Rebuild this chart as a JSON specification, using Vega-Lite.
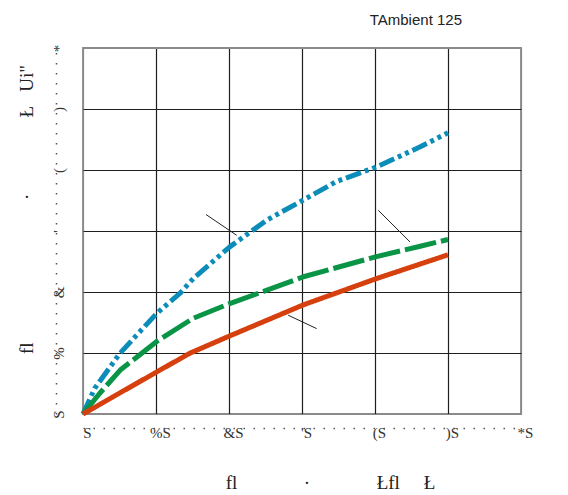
{
  "$schema": "https://vega.github.io/schema/vega-lite/v6.json",
  "width": 438,
  "height": 366,
  "autosize": {"type": "none"},
  "padding": {"left": 83, "top": 48, "right": 47, "bottom": 81},
  "background": "white",
  "title": {
    "text": "TAmbient 125",
    "anchor": "end",
    "frame": "group",
    "dx": -59,
    "offset": 4,
    "font": "Liberation Sans",
    "fontSize": 15,
    "fontWeight": "normal",
    "color": "#222222",
    "baseline": "alphabetic"
  },
  "config": {
    "view": {"stroke": "#8a8a8a", "strokeWidth": 1.8}
  },
  "datasets": {
    "curves": [
      {"series": "A", "x": 0, "y": 0},
      {"series": "A", "x": 1.6, "y": 0.42},
      {"series": "A", "x": 5.1, "y": 1.0},
      {"series": "A", "x": 10.1, "y": 1.65},
      {"series": "A", "x": 13.3, "y": 1.98},
      {"series": "A", "x": 15.1, "y": 2.22},
      {"series": "A", "x": 20.1, "y": 2.74},
      {"series": "A", "x": 25.2, "y": 3.18},
      {"series": "A", "x": 30.2, "y": 3.51},
      {"series": "A", "x": 34.7, "y": 3.81},
      {"series": "A", "x": 40.2, "y": 4.05},
      {"series": "A", "x": 46.2, "y": 4.38},
      {"series": "A", "x": 50, "y": 4.61},
      {"series": "B", "x": 0, "y": 0},
      {"series": "B", "x": 2.3, "y": 0.34},
      {"series": "B", "x": 5.1, "y": 0.72},
      {"series": "B", "x": 10.1, "y": 1.19},
      {"series": "B", "x": 15.1, "y": 1.57},
      {"series": "B", "x": 20.1, "y": 1.81},
      {"series": "B", "x": 25.2, "y": 2.03},
      {"series": "B", "x": 30.2, "y": 2.25},
      {"series": "B", "x": 40.2, "y": 2.58},
      {"series": "B", "x": 46.2, "y": 2.75},
      {"series": "B", "x": 50, "y": 2.86},
      {"series": "C", "x": 0, "y": 0},
      {"series": "C", "x": 10.1, "y": 0.69},
      {"series": "C", "x": 14.7, "y": 1.0},
      {"series": "C", "x": 20.1, "y": 1.28},
      {"series": "C", "x": 30.2, "y": 1.79},
      {"series": "C", "x": 40.2, "y": 2.22},
      {"series": "C", "x": 50, "y": 2.61}
    ],
    "leaders": [
      {"x": 16.85, "y": 3.27, "x2": 21.05, "y2": 2.93},
      {"x": 40.45, "y": 3.34, "x2": 44.8, "y2": 2.82},
      {"x": 28.1, "y": 1.62, "x2": 32.0, "y2": 1.40}
    ]
  },
  "layer": [
    {
      "data": {"name": "curves"},
      "mark": {"type": "line", "strokeWidth": 5, "strokeCap": "butt", "strokeJoin": "round"},
      "encoding": {
        "x": {
          "field": "x",
          "type": "quantitative",
          "scale": {"domain": [0, 60], "nice": false, "zero": false},
          "axis": {
            "orient": "bottom",
            "offset": 14,
            "values": [0, 10, 20, 30, 40, 50, 60],
            "labelExpr": "[\"S\",\"%S\",\"&S\",\"'S\",\"(S\",\")S\",\"*S\"][round(datum.value/10)]",
            "domain": true,
            "domainDash": [1.5, 8.5],
            "domainColor": "#555555",
            "domainWidth": 1.5,
            "ticks": false,
            "tickSize": 0,
            "labelPadding": 4,
            "labelBaseline": "middle",
            "labelAlign": "center",
            "labelOffset": 4,
            "labelFont": "Liberation Serif",
            "labelFontSize": 15,
            "labelColor": "#333333",
            "labelFlush": false,
            "labelOverlap": false,
            "grid": true,
            "gridColor": {"condition": {"test": "datum.value === 0 || datum.value === 60", "value": "#8a8a8a"}, "value": "#1e1e1e"},
            "gridWidth": 1.2,
            "title": "fl\u00a0\u00a0\u00a0\u00a0\u00a0\u00a0\u00a0\u00a0\u00a0\u00a0\u00a0\u00a0\u00a0\u00a0·\u00a0\u00a0\u00a0\u00a0\u00a0\u00a0\u00a0\u00a0\u00a0\u00a0\u00a0\u00a0\u00a0\u00a0Łfl\u00a0\u00a0\u00a0\u00a0\u00a0Ł",
            "titleFont": "Liberation Serif",
            "titleFontSize": 19,
            "titleFontWeight": "normal",
            "titleColor": "#222222",
            "titleX": 247,
            "titleY": 60,
            "titleAlign": "center",
            "titleBaseline": "alphabetic"
          }
        },
        "y": {
          "field": "y",
          "type": "quantitative",
          "scale": {"domain": [0, 6], "nice": false},
          "axis": {
            "orient": "left",
            "offset": 27,
            "values": [0, 1, 2, 3, 4, 5, 6],
            "labelExpr": "[\"S\",\"%\",\"&\",\"'\",\"(\",\")\",\"*\"][round(datum.value)]",
            "domain": true,
            "domainDash": [1.5, 8.5],
            "domainColor": "#555555",
            "domainWidth": 1.5,
            "ticks": false,
            "tickSize": 0,
            "labelAngle": 270,
            "labelAlign": "center",
            "labelBaseline": "middle",
            "labelPadding": -2,
            "labelFont": "Liberation Serif",
            "labelFontSize": 15,
            "labelColor": "#333333",
            "labelFlush": false,
            "labelOverlap": false,
            "grid": true,
            "gridColor": {"condition": {"test": "datum.value === 0 || datum.value === 6", "value": "#8a8a8a"}, "value": "#1e1e1e"},
            "gridWidth": 1.2,
            "title": "fl\u00a0\u00a0\u00a0\u00a0\u00a0\u00a0\u00a0\u00a0\u00a0\u00a0\u00a0\u00a0\u00a0\u00a0\u00a0\u00a0\u00a0\u00a0\u00a0\u00a0\u00a0\u00a0\u00a0\u00a0\u00a0\u00a0\u00a0\u00a0\u00a0\u00a0·\u00a0\u00a0\u00a0\u00a0\u00a0\u00a0\u00a0\u00a0\u00a0\u00a0\u00a0\u00a0\u00a0\u00a0\u00a0\u00a0Ł\u00a0\u00a0\u00a0Ui\"",
            "titleFont": "Liberation Serif",
            "titleFontSize": 19,
            "titleFontWeight": "normal",
            "titleColor": "#222222",
            "titleAngle": 270,
            "titleX": -24,
            "titleY": 161,
            "titleAlign": "center",
            "titleBaseline": "alphabetic"
          }
        },
        "color": {
          "field": "series",
          "type": "nominal",
          "scale": {"domain": ["A", "B", "C"], "range": ["#0c8cb8", "#0a9446", "#d6400e"]},
          "legend": null
        },
        "strokeDash": {
          "field": "series",
          "type": "nominal",
          "scale": {"domain": ["A", "B", "C"], "range": [[16, 4, 4, 4, 4, 4], [32, 5], [1, 0]]},
          "legend": null
        },
        "order": {"field": "x", "type": "quantitative"}
      }
    },
    {
      "data": {"name": "leaders"},
      "mark": {"type": "rule", "color": "#222222", "strokeWidth": 1},
      "encoding": {
        "x": {"field": "x", "type": "quantitative"},
        "y": {"field": "y", "type": "quantitative"},
        "x2": {"field": "x2"},
        "y2": {"field": "y2"}
      }
    }
  ]
}
